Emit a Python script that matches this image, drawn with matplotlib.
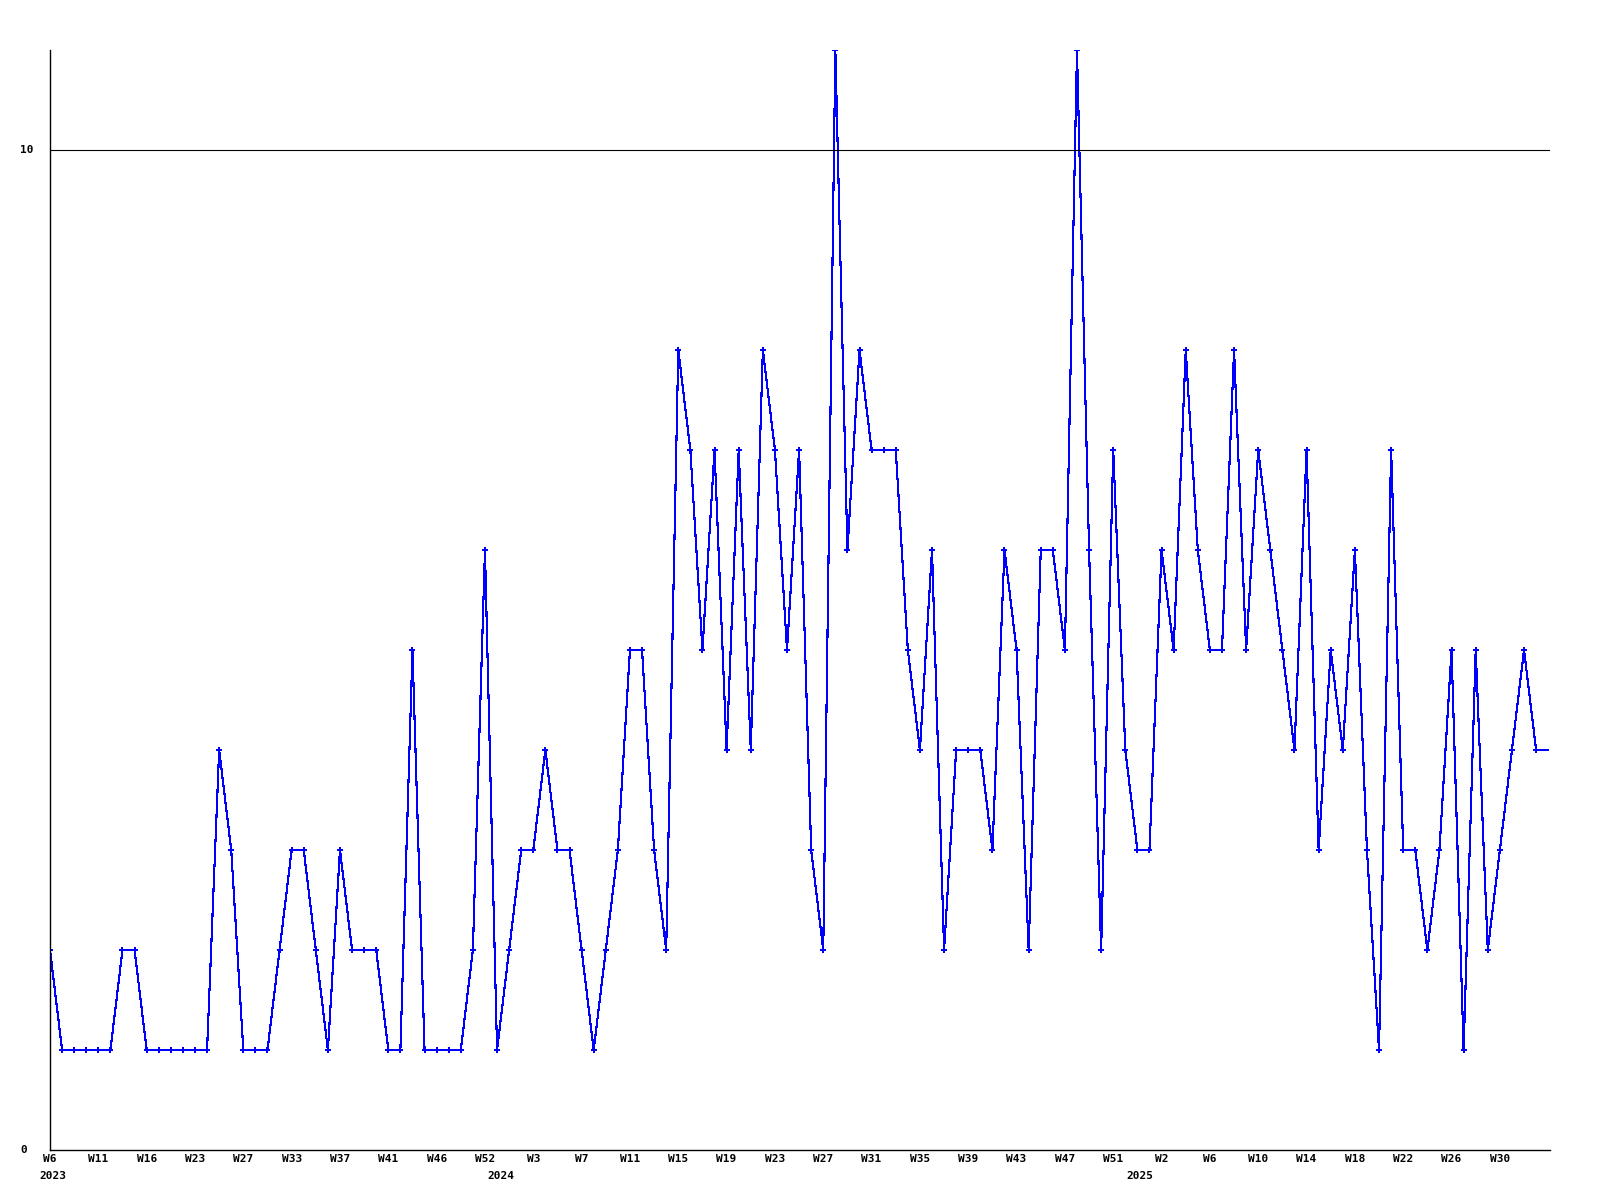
import numpy as np
import matplotlib.pyplot as plt

# weekly counts, one value per point (last one is the partial week, drawn without marker)
values = [2, 1, 1, 1, 1, 1, 2, 2, 1, 1, 1, 1, 1, 1, 4, 3, 1, 1, 1, 2,
          3, 3, 2, 1, 3, 2, 2, 2, 1, 1, 5, 1, 1, 1, 1, 2, 6, 1, 2, 3,
          3, 4, 3, 3, 2, 1, 2, 3, 5, 5, 3, 2, 8, 7, 5, 7, 4, 7, 4, 8,
          7, 5, 7, 3, 2, 11, 6, 8, 7, 7, 7, 5, 4, 6, 2, 4, 4, 4, 3, 6,
          5, 2, 6, 6, 5, 11, 6, 2, 7, 4, 3, 3, 6, 5, 8, 6, 5, 5, 8, 5,
          7, 6, 5, 4, 7, 3, 5, 4, 6, 3, 1, 7, 3, 3, 2, 3, 5, 1, 5, 2,
          3, 4, 5, 4, 4]

week_labels = ['W6', 'W11', 'W16', 'W23', 'W27', 'W33', 'W37', 'W41', 'W46', 'W52',
               'W3', 'W7', 'W11', 'W15', 'W19', 'W23', 'W27', 'W31', 'W35', 'W39',
               'W43', 'W47', 'W51', 'W2', 'W6', 'W10', 'W14', 'W18', 'W22', 'W26', 'W30']
years = ['2023', '2024', '2025']
year_pos = [0.25, 37.3, 90.2]

x = np.arange(len(values))
n_full = len(values) - 1

fig = plt.figure(figsize=(16, 12), dpi=100)
ax = fig.add_axes([0.03125, 0.04167, 0.9375, 0.91667])

ax.plot(x, values, color='#0000ff', linewidth=0.8, antialiased=False)
ax.plot(x[:n_full], values[:n_full], linestyle='none', marker='P',
        markersize=4.5, color='#0000ff', markeredgewidth=0)

ax.axhline(10, color='black', linewidth=0.8)

ax.set_xlim(0, 124.15)
ax.set_ylim(0, 11)

for s in ['top', 'right']:
    ax.spines[s].set_visible(False)
for s in ['left', 'bottom']:
    ax.spines[s].set_linewidth(1.0)
    ax.spines[s].set_color('black')

font = dict(family='DejaVu Sans Mono', fontweight='bold', fontsize=8)

ax.set_xticks(np.arange(0, 4 * len(week_labels), 4))
ax.set_xticklabels(week_labels, **font)
ax.tick_params(axis='x', length=0, pad=3)

ax.set_yticks([0, 10])
ax.set_yticklabels([])
ax.tick_params(axis='y', length=0)
for v in [0, 10]:
    fig.text(20 / 1600, 1 - (1150 - v * 100) / 1200, str(v), ha='left', va='center', **font)

for yr, p in zip(years, year_pos):
    ax.text(p, -0.26, yr, ha='center', va='center', **font)

fig.savefig('out.png', dpi=100, facecolor='white')
